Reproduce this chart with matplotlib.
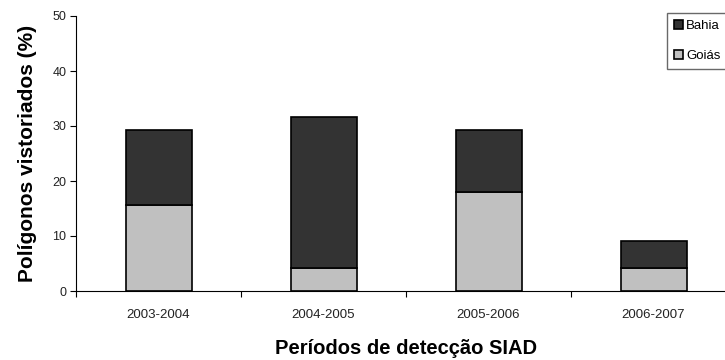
import numpy as np
import matplotlib
matplotlib.use("Agg")
import matplotlib.pyplot as plt

plt.rcParams["font.family"] = ["Liberation Sans", "DejaVu Sans"]

# data
periods = ["2003-2004", "2004-2005", "2005-2006", "2006-2007"]
goias = [15.6, 4.2, 18.0, 4.2]
bahia_total = [29.3, 31.7, 29.3, 9.1]
bahia = [t - g for t, g in zip(bahia_total, goias)]

fig = plt.figure(figsize=(7.25, 3.6), dpi=100)
W, H = 725, 360
ax = fig.add_axes([76 / W, (H - 291) / H, 660 / W, 275 / H])

x = np.arange(len(periods))
ax.bar(x, goias, width=0.4, color="#c0c0c0", edgecolor="black", linewidth=1.2,
       label="Goiás")
ax.bar(x, bahia, bottom=goias, width=0.4, color="#333333", edgecolor="black",
       linewidth=1.2, label="Bahia")

ax.set_xlim(-0.5, len(periods) - 0.5)
ax.set_ylim(0, 50)
ax.set_yticks([0, 10, 20, 30, 40, 50])
ax.set_xticks(x)
ax.set_xticklabels(periods)
ax.set_xticks(np.arange(len(periods) + 1) - 0.5, minor=True)
ax.tick_params(axis="x", which="major", length=0, pad=13, labelsize=9.5,
               labelcolor="#222222")
ax.tick_params(axis="x", which="minor", length=4, direction="out", width=0.8)
ax.tick_params(axis="y", length=4, direction="out", width=0.8, labelsize=9,
               labelcolor="#222222", pad=3)

for s in ["top", "right"]:
    ax.spines[s].set_visible(False)
ax.spines["left"].set_linewidth(0.8)
ax.spines["bottom"].set_linewidth(0.8)

ax.set_xlabel("Períodos de detecção SIAD", fontsize=14.5, fontweight="bold",
              labelpad=13)
ax.set_ylabel("Polígonos vistoriados (%)", fontsize=15, fontweight="bold",
              labelpad=11)

handles, labels = ax.get_legend_handles_labels()
fig.legend(handles[::-1], labels[::-1], loc="upper left",
           bbox_to_anchor=(667 / W, 1 - 13 / H), fontsize=9.5, frameon=True,
           fancybox=False, edgecolor="#444444", handlelength=0.7,
           handleheight=0.7, handletextpad=0.2, labelspacing=1.3,
           borderpad=0.55, borderaxespad=0)

fig.savefig("out.png", dpi=100)
